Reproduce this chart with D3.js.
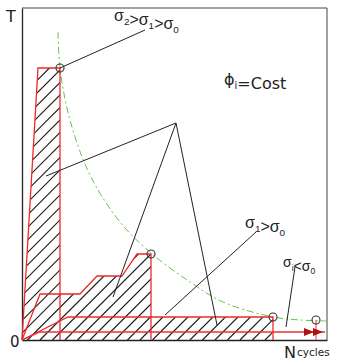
<!DOCTYPE html>
<html>
<head>
<meta charset="utf-8">
<script src="https://cdn.jsdelivr.net/npm/d3@7"></script>
<style>
  body { margin: 0; background: #fff; }
  text { font-family: "DejaVu Sans", sans-serif; fill: #222; }
  text.sig { font-family: "Liberation Sans", sans-serif; }
</style>
</head>
<body>
<div id="chart"></div>
<script>
// load blocks (N, T) in arbitrary units, origin at bottom-left
const blockHigh = [[0,0],[16,272],[38,272],[38,0]];               // sigma2
const blockMid  = [[0,0],[18,46],[58,46],[75,64],[100,64],[115,86],[129,86],[129,0]]; // sigma1
const blockLow  = [[0,0],[46,23],[251,23],[251,0]];               // sigma1 > sigma0
const blockTail = [[0,0],[18,8],[303,8]];                          // sigma_i < sigma0

// end points of each block (circles)
const endPoints = [[38,272],[129,86],[251,23],[294,20]];
const arrowTips = [292, 301];

// constant damage curve phi_i = Cost
const curve = [[36,308],[38,272],[48,220],[68,165],[98,118],[129,87],[168,58],[201,38],[251,23],[278,20],[305,19]];

// leader lines from labels
const leaders = [
  [[38,272],[123,310]],
  [[154,217],[24,164]],
  [[154,217],[91,43]],
  [[154,217],[195,15]],
  [[234,108],[143,25]],
  [[273,73],[264,13]]
];

const margin = {top: 8, right: 16, bottom: 22, left: 22},
  width = 343 - margin.left - margin.right,
  height = 362 - margin.top - margin.bottom;

const svg = d3.select("#chart")
  .append("svg")
  .attr("width", 343)
  .attr("height", 362)
  .append("g")
  .attr("transform", `translate(${margin.left},${margin.top})`);

const x = d3.scaleLinear().domain([0, 305]).range([0, width]);
const y = d3.scaleLinear().domain([0, 332]).range([height, 0]);

const line = d3.line().x(d => x(d[0])).y(d => y(d[1]));

// clip of the hatched area = union of the three blocks
const clip = svg.append("defs").append("clipPath").attr("id", "blocks");
[blockHigh, blockMid, blockLow].forEach(b => {
  clip.append("path").attr("d", line(b) + "Z");
});

// 45 deg hatch lines, "/" direction
const hatchStep = 12.5;
const hatch = svg.append("g").attr("clip-path", "url(#blocks)");
hatch.selectAll("line")
  .data(d3.range(-height, width, hatchStep))
  .join("line")
  .attr("x1", d => d).attr("y1", height)
  .attr("x2", d => d + height).attr("y2", 0)
  .attr("stroke", "#1a1a1a")
  .attr("stroke-width", 1.2);

// frame (axes without ticks)
svg.append("g")
  .attr("transform", `translate(0,${height})`)
  .call(d3.axisBottom(x).tickValues([]).tickSizeOuter(0));
svg.append("g")
  .call(d3.axisLeft(y).tickValues([]).tickSizeOuter(0));
svg.append("path")
  .attr("d", line([[0,332],[305,332],[305,0]]))
  .attr("fill", "none").attr("stroke", "#444").attr("stroke-width", 1);
svg.selectAll(".domain").attr("stroke", "#222").attr("stroke-width", 1.3);

// green curve
svg.append("path")
  .datum(curve)
  .attr("fill", "none")
  .attr("stroke", "#66c44a")
  .attr("stroke-width", 1)
  .attr("stroke-dasharray", "7,3,2,3")
  .attr("d", d3.line().curve(d3.curveCatmullRom).x(d => x(d[0])).y(d => y(d[1])));

// block outlines
[blockHigh, blockMid, blockLow].forEach(b => {
  svg.append("path")
    .attr("d", line(b))
    .attr("fill", "none")
    .attr("stroke", "#ee2a2a")
    .attr("stroke-width", 1.3);
});
svg.append("path")
  .attr("d", line(blockTail))
  .attr("fill", "none")
  .attr("stroke", "#ee3030")
  .attr("stroke-width", 1.3);
svg.append("path")
  .attr("d", line([[294,20],[294,0]]))
  .attr("stroke", "#f07070")
  .attr("stroke-width", 1.4);

// arrowheads
arrowTips.forEach(t => {
  const tx = x(t), ty = y(8);
  svg.append("path")
    .attr("d", `M${tx},${ty}L${tx-10},${ty-4}L${tx-10},${ty+4}Z`)
    .attr("fill", "#b01212");
});

// leaders
leaders.forEach(l => {
  svg.append("path")
    .attr("d", line(l))
    .attr("stroke", "#222")
    .attr("stroke-width", 1);
});

// end point circles
svg.selectAll(".endpt")
  .data(endPoints)
  .join("circle")
  .attr("cx", d => x(d[0]))
  .attr("cy", d => y(d[1]))
  .attr("r", 4)
  .attr("fill", "none")
  .attr("stroke", "#333")
  .attr("stroke-width", 1.1);

// labels
function sigma(g, px, py, parts, size, cls) {
  const t = g.append("text").attr("class", cls || null)
    .attr("x", px).attr("y", py).style("font-size", size + "px");
  parts.forEach(p => {
    if (p.sub) {
      t.append("tspan").attr("dy", size * 0.25).style("font-size", (size * 0.62) + "px").text(p.sub);
      t.append("tspan").attr("dy", -size * 0.25).text("");
    } else t.append("tspan").text(p.t);
  });
  return t;
}
const root = d3.select("svg");
sigma(root, 114, 21, [{t:"σ"},{sub:"2"},{t:">σ"},{sub:"1"},{t:">σ"},{sub:"0"}], 16, "sig");
sigma(root, 245, 228, [{t:"σ"},{sub:"1"},{t:">σ"},{sub:"0"}], 16, "sig");
sigma(root, 283, 267, [{t:"σ"},{sub:"i"},{t:"<σ"},{sub:"0"}], 14, "sig");
sigma(root, 224, 85, [{t:"ϕ"},{sub:"i"},{t:"=Cost"}], 16);

root.append("text").attr("x", 6).attr("y", 22).style("font-size", "16px").text("T");
root.append("text").attr("x", 10).attr("y", 347).style("font-size", "15px").text("0");
root.append("text").attr("x", 284).attr("y", 358).style("font-size", "16px").text("N");
root.append("text").attr("x", 297).attr("y", 356).style("font-size", "10.5px").text("cycles");
</script>
</body>
</html>
